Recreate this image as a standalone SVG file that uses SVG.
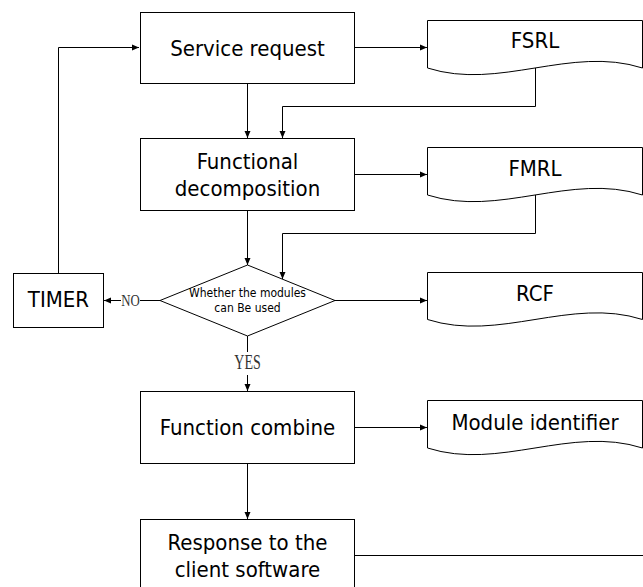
<svg xmlns="http://www.w3.org/2000/svg" width="643" height="587" viewBox="0 0 643 587">
<style>
.box{fill:#fff;stroke:#000;stroke-width:1}
.doc{fill:#fff;stroke:#000;stroke-width:1}
.t{font-family:"DejaVu Sans Condensed","DejaVu Sans",sans-serif;font-stretch:condensed;font-size:22px;fill:#000;text-anchor:middle}
.s{font-family:"DejaVu Sans Condensed","DejaVu Sans",sans-serif;font-stretch:condensed;font-size:12px;fill:#000;text-anchor:middle}
.l{font-family:"Liberation Serif",serif;fill:#333;text-anchor:middle}
.c{fill:none;stroke:#000;stroke-width:1}
</style>
<defs>
<marker id="a" markerUnits="userSpaceOnUse" markerWidth="8" markerHeight="8" refX="7" refY="4" orient="auto">
<path d="M0,1 L7,4 L0,7 z" fill="#000"/>
</marker>
</defs>
<g id="connectors">
<path class="c" d="M58.5,273 V47.5 H139" marker-end="url(#a)"/>
<path class="c" d="M355,47.5 H427" marker-end="url(#a)"/>
<path class="c" d="M247.5,84 V138" marker-end="url(#a)"/>
<path class="c" d="M535.5,68 V106.5 H282.5 V138" marker-end="url(#a)"/>
<path class="c" d="M355,174.5 H427" marker-end="url(#a)"/>
<path class="c" d="M247.5,211 V265" marker-end="url(#a)"/>
<path class="c" d="M535.5,195 V233.5 H282.5 V279" marker-end="url(#a)"/>
<path class="c" d="M335,300.5 H427" marker-end="url(#a)"/>
<path class="c" d="M160,300.5 H140"/>
<path class="c" d="M121,300.5 H104" marker-end="url(#a)"/>
<text class="l" x="130.5" y="305.7" font-size="16" textLength="18.5" lengthAdjust="spacingAndGlyphs">NO</text>
<path class="c" d="M247.5,336 V352"/>
<path class="c" d="M247.5,375 V391" marker-end="url(#a)"/>
<text class="l" x="247.5" y="369.3" font-size="21" textLength="26.5" lengthAdjust="spacingAndGlyphs">YES</text>
<path class="c" d="M355,427.5 H427" marker-end="url(#a)"/>
<path class="c" d="M247.5,464 V519" marker-end="url(#a)"/>
<path class="c" d="M355,555.5 H643"/>
</g>
<g id="service-request">
<rect class="box" x="140.5" y="12.5" width="214" height="71"/>
<text class="t" x="247.5" y="55.5">Service request</text>
</g>
<g id="fsrl">
<path class="doc" d="M427.5,20.5 H642.5 V68 C570.5,45 499.5,91 427.5,68 Z"/>
<text class="t" x="535" y="47.5">FSRL</text>
</g>
<g id="functional-decomposition">
<rect class="box" x="140.5" y="138.5" width="214" height="72"/>
<text class="t" x="247.5" y="168.5">Functional</text>
<text class="t" x="247.5" y="195.5">decomposition</text>
</g>
<g id="fmrl">
<path class="doc" d="M427.5,147.5 H642.5 V195 C570.5,172 499.5,218 427.5,195 Z"/>
<text class="t" x="535" y="175.5">FMRL</text>
</g>
<g id="decision">
<polygon class="box" points="247.5,265 335,300.5 247.5,336 160,300.5"/>
<text class="s" x="247.5" y="296.5">Whether the modules</text>
<text class="s" x="247.5" y="311.5">can Be used</text>
</g>
<g id="timer">
<rect class="box" x="13.5" y="273.5" width="90" height="54"/>
<text class="t" x="58.5" y="306.5">TIMER</text>
</g>
<g id="rcf">
<path class="doc" d="M427.5,272.5 H642.5 V319.5 C570.5,296.5 499.5,342.5 427.5,319.5 Z"/>
<text class="t" x="535" y="300.5">RCF</text>
</g>
<g id="function-combine">
<rect class="box" x="140.5" y="391.5" width="214" height="72"/>
<text class="t" x="247.5" y="435">Function combine</text>
</g>
<g id="module-identifier">
<path class="doc" d="M427.5,400.5 H642.5 V448 C570.5,425 499.5,471 427.5,448 Z"/>
<text class="t" x="535" y="429.5">Module identifier</text>
</g>
<g id="response">
<rect class="box" x="140.5" y="519.5" width="214" height="80"/>
<text class="t" x="247.5" y="549.5">Response to the</text>
<text class="t" x="247.5" y="576.5">client software</text>
</g>
</svg>
